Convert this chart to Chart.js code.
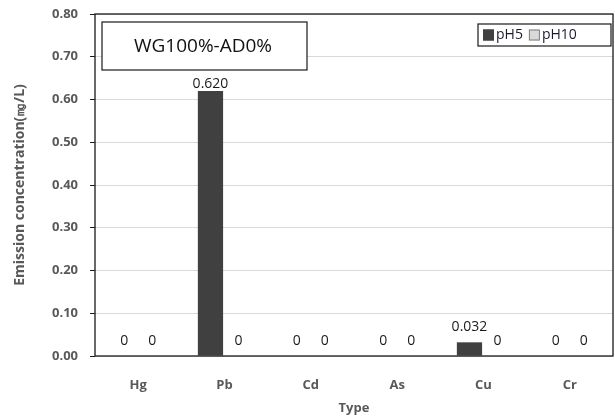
<!DOCTYPE html>
<html>
<head>
<meta charset="utf-8">
<script src="https://cdn.jsdelivr.net/npm/chart.js@4/dist/chart.umd.min.js"></script>
<style>
    html, body { margin: 0; padding: 0; background: #fff; }
    #wrap { position: relative; width: 615px; height: 418px; }
</style>
</head>
<body>
<div id="wrap"><canvas id="emission-chart" width="615" height="418"></canvas></div>
<script>
const categories = ['Hg', 'Pb', 'Cd', 'As', 'Cu', 'Cr'];
const ph5Values = [0, 0.620, 0, 0, 0.032, 0];
const ph10Values = [0, 0, 0, 0, 0, 0];
const ph5Labels = ['0', '0.620', '0', '0', '0.032', '0'];
const ph10Labels = ['0', '0', '0', '0', '0', '0'];
const yTicks = [0, 0.1, 0.2, 0.3, 0.4, 0.5, 0.6, 0.7, 0.8];
const boxTitle = 'WG100%-AD0%';

// Frame around the plot area plus the title box
const framePlugin = {
    id: 'frame',
    afterDraw(chart) {
        const { ctx, chartArea: a } = chart;
        ctx.save();
        ctx.strokeStyle = '#1a1a1a';
        ctx.lineWidth = 1.3;
        ctx.strokeRect(a.left, a.top, a.right - a.left, a.bottom - a.top);

        // title box
        ctx.lineWidth = 1.2;
        ctx.fillStyle = '#fff';
        ctx.fillRect(102, 22, 205, 48);
        ctx.strokeRect(102, 22, 205, 48);
        ctx.fillStyle = '#111';
        ctx.font = '19px "Open Sans"';
        ctx.textAlign = 'center';
        ctx.textBaseline = 'middle';
        ctx.fillText(boxTitle, 203, 47);
        ctx.restore();
    }
};

// Value labels above each bar
const valueLabels = {
    id: 'valueLabels',
    afterDatasetsDraw(chart) {
        const { ctx } = chart;
        const texts = [ph5Labels, ph10Labels];
        ctx.save();
        ctx.font = '14px "Open Sans"';
        ctx.fillStyle = '#1a1a1a';
        ctx.textAlign = 'center';
        ctx.textBaseline = 'alphabetic';
        chart.data.datasets.forEach((ds, i) => {
            chart.getDatasetMeta(i).data.forEach((bar, j) => {
                const off = ds.data[j] > 0.5 ? 3 : 11;
                ctx.fillText(texts[i][j], bar.x, bar.y - off);
            });
        });
        ctx.restore();
    }
};

// Legend with a box around it
const boxLegend = {
    id: 'boxLegend',
    afterDraw(chart) {
        const { ctx } = chart;
        ctx.save();
        ctx.strokeStyle = '#1a1a1a';
        ctx.lineWidth = 1.2;
        ctx.fillStyle = '#fff';
        ctx.fillRect(478, 24, 133, 22);
        ctx.strokeRect(478, 24, 133, 22);
        ctx.font = '14px "Open Sans"';
        ctx.textBaseline = 'middle';
        let x = 483;
        chart.data.datasets.forEach(ds => {
            ctx.fillStyle = ds.backgroundColor;
            ctx.fillRect(x, 29.5, 11, 11);
            ctx.strokeStyle = ds.borderColor;
            ctx.lineWidth = 1;
            ctx.strokeRect(x + 0.5, 30, 10, 10);
            ctx.fillStyle = '#1a1a2e';
            ctx.fillText(ds.label, x + 13, 35.5);
            x += 13 + ctx.measureText(ds.label).width + 6;
        });
        ctx.restore();
    }
};

const ctx = document.getElementById('emission-chart').getContext('2d');
new Chart(ctx, {
    type: 'bar',
    data: {
        labels: categories,
        datasets: [
            { label: 'pH5', data: ph5Values, backgroundColor: '#404040', borderColor: '#404040', borderWidth: 0 },
            { label: 'pH10', data: ph10Values, backgroundColor: '#d9d9d9', borderColor: '#7f7f7f', borderWidth: 0 }
        ]
    },
    options: {
        responsive: false,
        animation: false,
        events: [],
        layout: { padding: { top: 14, right: 2, left: 0, bottom: 0 } },
        datasets: { bar: { categoryPercentage: 0.65, barPercentage: 0.9 } },
        plugins: {
            legend: { display: false },
            tooltip: { enabled: false }
        },
        scales: {
            x: {
                grid: { display: false, drawTicks: false },
                border: { display: false },
                ticks: {
                    padding: 21,
                    color: '#595959',
                    font: { family: 'Open Sans', size: 13, weight: 'bold' }
                },
                title: {
                    display: true,
                    text: 'Type',
                    color: '#595959',
                    padding: { top: 0, bottom: 2 },
                    font: { family: 'Open Sans', size: 13, weight: 'bold' }
                },
                afterFit(scale) { scale.height = 62; }
            },
            y: {
                min: 0,
                max: 0.8,
                afterBuildTicks(scale) { scale.ticks = yTicks.map(v => ({ value: v })); },
                grid: { color: '#d9d9d9', tickColor: '#1a1a1a', tickLength: 5, lineWidth: 1 },
                border: { display: false },
                ticks: {
                    padding: 12,
                    color: '#595959',
                    font: { family: 'Open Sans', size: 13, weight: 'bold' },
                    callback: v => v.toFixed(2)
                },
                title: {
                    display: true,
                    text: 'Emission concentration(㎎/L)',
                    color: '#595959',
                    padding: { top: 12, bottom: 0 },
                    font: { family: 'Open Sans', size: 14, weight: 'bold' }
                },
                afterFit(scale) {
                    scale.width = 95;
                    scale.paddingTop = 0;
                    scale.paddingBottom = 0;
                }
            }
        }
    },
    plugins: [framePlugin, valueLabels, boxLegend]
});
</script>
</body>
</html>
